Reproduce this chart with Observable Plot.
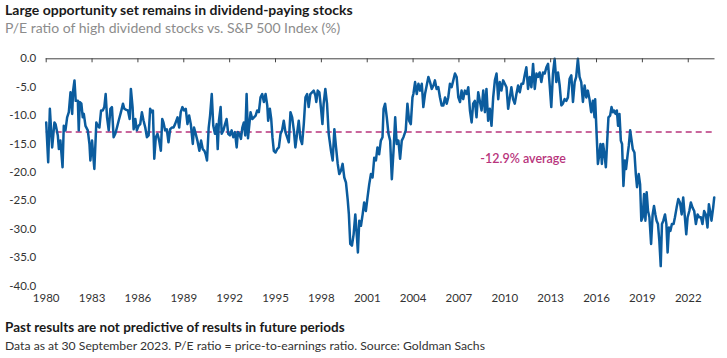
<!DOCTYPE html>
<html><head><meta charset="utf-8">
<script src="https://cdn.jsdelivr.net/npm/d3@7"></script>
<script src="https://cdn.jsdelivr.net/npm/@observablehq/plot@0.6"></script>
<style>
body{margin:0;background:#fff;font-family:Lato,"Open Sans",sans-serif;}
#wrap{width:727px;height:358px;position:relative;overflow:hidden;background:#fff}
.title{position:absolute;left:5px;top:1px;font-size:14px;font-weight:700;color:#1a1a1a;line-height:18px;white-space:nowrap}
.subtitle{position:absolute;left:5px;top:19px;font-size:14px;color:#8c8c8c;line-height:18px;white-space:nowrap}
#chart{position:absolute;left:0;top:36px}
.note{position:absolute;left:5px;top:319px;font-size:13.5px;font-weight:700;color:#1a1a1a;line-height:17px;white-space:nowrap}
.source{position:absolute;left:5px;top:338px;font-size:12.2px;color:#333;line-height:16px;white-space:nowrap}
</style></head>
<body><div id="wrap">
<div class="title">Large opportunity set remains in dividend-paying stocks</div>
<div class="subtitle">P/E ratio of high dividend stocks vs. S&amp;P 500 Index (%)</div>
<div id="chart"></div>
<div class="note">Past results are not predictive of results in future periods</div>
<div class="source">Data as at 30 September 2023. P/E ratio = price-to-earnings ratio. Source: Goldman Sachs</div>
</div>
<script>
const years = [1980.00,1980.13,1980.24,1980.39,1980.54,1980.61,1980.76,1980.83,1980.93,1981.07,1981.15,1981.26,1981.37,1981.48,1981.59,1981.70,1981.76,1981.85,1981.93,1982.07,1982.13,1982.20,1982.30,1982.39,1982.46,1982.57,1982.72,1982.83,1982.89,1983.00,1983.15,1983.28,1983.37,1983.48,1983.59,1983.70,1983.80,1983.89,1983.98,1984.09,1984.20,1984.30,1984.41,1984.52,1984.63,1984.74,1984.89,1985.02,1985.11,1985.24,1985.35,1985.46,1985.54,1985.65,1985.72,1985.83,1985.93,1986.04,1986.15,1986.26,1986.37,1986.48,1986.59,1986.70,1986.80,1986.91,1986.98,1987.07,1987.17,1987.28,1987.39,1987.50,1987.59,1987.67,1987.78,1987.89,1988.00,1988.11,1988.22,1988.33,1988.43,1988.59,1988.70,1988.80,1988.91,1989.02,1989.13,1989.24,1989.35,1989.46,1989.59,1989.67,1989.78,1989.89,1990.02,1990.13,1990.24,1990.35,1990.43,1990.52,1990.63,1990.72,1990.83,1990.93,1991.04,1991.15,1991.22,1991.30,1991.41,1991.48,1991.59,1991.70,1991.80,1991.91,1992.02,1992.13,1992.24,1992.35,1992.46,1992.54,1992.63,1992.74,1992.83,1992.93,1993.02,1993.11,1993.20,
1993.37,1993.48,1993.59,1993.70,1993.80,1993.91,1994.02,1994.13,1994.24,1994.35,1994.46,1994.52,1994.63,1994.72,1994.80,1994.89,1995.00,1995.11,1995.22,1995.33,1995.43,1995.54,1995.65,1995.76,1995.87,1995.98,1996.09,1996.20,1996.30,1996.41,1996.52,1996.63,1996.74,1996.85,1996.96,1997.07,1997.17,1997.28,1997.39,1997.50,1997.61,1997.67,1997.76,1997.87,1997.98,1998.07,1998.15,1998.26,1998.37,1998.48,1998.54,1998.63,1998.74,1998.85,1998.96,1999.07,1999.17,1999.28,1999.39,1999.50,1999.61,1999.72,1999.80,1999.89,2000.00,2000.11,2000.22,2000.33,2000.39,2000.48,2000.59,2000.70,2000.80,2000.91,2001.02,2001.13,2001.24,2001.35,2001.46,2001.57,2001.67,2001.78,2001.89,2002.00,2002.07,2002.17,2002.28,2002.39,2002.50,2002.61,2002.72,2002.83,2002.93,2003.04,2003.15,2003.26,2003.37,2003.52,2003.63,2003.74,2003.85,2003.96,2004.02,2004.13,2004.24,2004.35,2004.46,2004.57,2004.67,2004.78,2004.89,2005.00,2005.11,2005.22,2005.33,2005.43,2005.54,2005.65,2005.76,2005.87,2005.98,2006.09,2006.20,2006.30,2006.41,2006.52,2006.63,2006.74,2006.85,2006.96,2007.07,2007.17,2007.28,2007.39,2007.50,2007.61,2007.72,2007.83,2007.93,2008.04,2008.15,2008.26,
2008.48,2008.59,2008.70,2008.80,2008.91,2009.02,2009.13,2009.24,2009.35,2009.46,2009.57,2009.67,2009.78,2009.89,2010.00,2010.11,2010.22,2010.33,2010.43,2010.54,2010.65,2010.76,2010.87,2010.98,2011.09,2011.20,2011.30,2011.41,2011.52,2011.63,2011.74,2011.85,2011.96,2012.07,2012.17,2012.28,2012.39,2012.50,2012.61,2012.72,2012.83,2012.93,2013.04,2013.15,2013.26,2013.37,2013.48,2013.59,2013.70,2013.80,2013.91,2014.02,2014.13,2014.24,2014.35,2014.46,2014.57,2014.67,2014.78,2014.89,2015.00,2015.11,2015.22,2015.33,2015.43,2015.54,2015.65,2015.76,2015.87,2015.91,2016.02,2016.09,2016.17,2016.26,2016.35,2016.43,2016.52,2016.61,2016.70,2016.78,2016.89,2016.98,2017.07,2017.15,2017.24,2017.33,2017.41,2017.50,2017.59,2017.67,2017.76,2017.85,2017.93,2018.04,2018.11,2018.20,2018.28,2018.37,2018.48,2018.57,2018.65,2018.76,2018.85,2018.93,2019.02,2019.11,2019.20,2019.28,2019.37,2019.46,2019.57,2019.67,2019.76,2019.85,2019.93,2020.02,2020.11,2020.20,2020.28,2020.37,2020.48,2020.57,2020.65,2020.74,2020.83,2020.93,2021.04,2021.13,2021.24,2021.35,2021.46,2021.57,2021.67,2021.78,2021.87,2021.96,2022.07,2022.17,2022.28,2022.39,2022.50,2022.61,2022.72,2022.83,2022.93,2023.04,2023.15,2023.26,2023.35,2023.43,2023.52,2023.63,2023.70];

const peRatio = [-11.2,-18.2,-8.8,-15.6,-11.2,-11.5,-13.5,-15.9,-14.4,-19.1,-11.8,-12.6,-10.3,-9.4,-5.9,-9.7,-5.6,-3.8,-7.4,-7.4,-12.6,-7.6,-7.9,-10.3,-9.7,-11.8,-12.6,-15.0,-17.9,-14.4,-19.4,-11.2,-11.8,-12.1,-9.1,-9.1,-8.5,-6.2,-10.3,-12.6,-8.8,-8.5,-13.8,-13.2,-12.1,-10.9,-9.4,-7.9,-8.8,-9.0,-9.1,-10.6,-5.3,-8.5,-12.4,-10.6,-12.6,-11.8,-11.5,-9.4,-10.9,-12.1,-13.8,-13.5,-8.8,-9.4,-9.1,-17.6,-13.8,-13.2,-14.4,-16.2,-10.6,-11.2,-12.6,-12.4,-14.7,-12.4,-12.1,-12.1,-11.5,-10.3,-12.1,-9.4,-8.5,-9.1,-8.8,-11.5,-10.0,-11.5,-15.0,-12.1,-13.2,-14.4,-16.2,-14.4,-15.9,-16.2,-16.8,-17.9,-12.1,-10.0,-6.2,-11.8,-13.2,-11.5,-15.9,-10.9,-8.5,-13.2,-12.6,-11.5,-10.6,-13.2,-13.5,-12.6,-13.8,-12.9,-15.6,-12.9,-13.2,-14.1,-12.1,-11.2,-13.5,-6.2,-14.0,
-9.4,-10.6,-10.3,-10.0,-9.1,-9.4,-6.8,-6.2,-7.6,-6.2,-8.2,-10.9,-8.8,-10.6,-13.8,-16.2,-16.5,-15.9,-15.6,-13.2,-12.6,-10.9,-12.9,-13.8,-14.7,-9.4,-10.3,-12.6,-15.6,-13.2,-10.9,-14.1,-15.0,-11.5,-6.8,-6.2,-8.5,-6.2,-5.9,-5.6,-6.5,-7.6,-5.6,-5.9,-8.8,-11.5,-7.9,-5.3,-7.9,-13.2,-14.4,-16.2,-17.9,-12.4,-15.6,-18.5,-20.3,-19.7,-18.5,-20.9,-21.8,-24.7,-27.4,-32.6,-32.9,-30.9,-27.4,-31.5,-34.1,-28.5,-29.4,-27.4,-25.3,-26.8,-24.4,-22.1,-20.3,-20.9,-17.4,-17.9,-15.6,-16.8,-14.4,-13.8,-8.8,-7.9,-10.3,-13.2,-14.4,-21.2,-16.2,-10.3,-15.0,-14.4,-17.6,-14.4,-13.8,-12.6,-7.9,-10.9,-11.5,-6.8,-6.2,-4.1,-6.2,-4.4,-5.6,-4.4,-8.5,-6.2,-4.7,-3.2,-4.1,-5.3,-4.7,-3.8,-5.3,-5.0,-6.8,-8.2,-8.2,-6.8,-7.9,-6.8,-4.4,-5.0,-3.8,-2.6,-3.2,-6.8,-7.6,-5.6,-7.1,-5.6,-6.2,-5.0,-9.1,-11.2,-7.9,-7.4,-10.3,-5.9,
-9.1,-5.6,-9.4,-5.3,-10.9,-8.8,-11.8,-6.8,-3.8,-2.6,-7.1,-4.1,-5.6,-3.8,-4.4,-5.0,-8.8,-6.8,-5.0,-7.1,-7.9,-6.2,-4.7,-5.9,-4.4,-4.4,-2.9,-1.5,-5.3,-3.2,-5.0,-0.9,-5.3,-2.6,-3.2,-2.4,-4.1,-2.4,-2.6,-1.5,-0.9,-4.4,-8.5,-2.6,0.0,-4.1,-2.4,-4.7,-8.2,-7.9,-7.1,-7.4,-6.8,-3.5,-2.9,-7.6,-4.1,-3.2,0.0,-3.2,-4.1,-7.6,-4.7,-6.8,-5.6,-7.1,-9.4,-7.4,-10.3,-7.1,-14.1,-18.5,-17.1,-15.0,-18.5,-15.0,-16.8,-19.1,-14.4,-10.3,-10.0,-8.5,-9.4,-9.1,-9.7,-9.1,-11.8,-9.7,-14.4,-15.0,-22.4,-17.9,-19.4,-16.8,-15.3,-12.6,-14.1,-15.9,-16.5,-20.3,-22.6,-20.3,-22.1,-28.5,-27.9,-23.8,-28.5,-23.5,-26.8,-27.9,-32.6,-27.4,-25.9,-27.4,-28.5,-29.1,-32.1,-36.5,-29.1,-28.5,-27.4,-29.1,-34.1,-29.7,-30.3,-29.1,-29.1,-27.9,-26.2,-24.7,-25.3,-27.4,-24.4,-27.9,-30.9,-27.9,-26.8,-25.3,-26.2,-26.8,-29.1,-27.4,-27.9,-27.9,-29.1,-26.8,-27.4,-29.7,-25.6,-26.8,-28.5,-26.2,-24.4];

const average = -12.9;
const averageLabel = "-12.9% average";
const labelYear = 2011.2;
const xTicks = [1980,1983,1986,1989,1992,1995,1998,2001,2004,2007,2010,2013,2016,2019,2022];
const yTicks = [0,-5,-10,-15,-20,-25,-30,-35,-40];

const data = years.map((y, i) => ({year: y, value: peRatio[i]}));
const magenta = "#b8347c";
const blue = "#0b5c9e";

const chart = Plot.plot({
  width: 727,
  height: 280,
  marginLeft: 45.7,
  marginRight: 12.5,
  marginTop: 22.3,
  marginBottom: 30.5,
  style: {fontFamily: "Lato, 'Open Sans', sans-serif", fontSize: "11.5px", color: "#333", background: "#fff"},
  x: {type: "linear", domain: [1980, 2023.75]},
  y: {domain: [-40, 0]},
  marks: [
    Plot.ruleY([average], {stroke: magenta, strokeWidth: 1.4, strokeDasharray: "6,4"}),
    Plot.line(data, {x: "year", y: "value", stroke: blue, strokeWidth: 2.5, strokeLinejoin: "round"}),
    Plot.ruleY([0], {stroke: "#444", strokeWidth: 1}),
    Plot.ruleX(xTicks, {x: d => d, y1: 0, y2: 0, insetBottom: -4, stroke: "#444"}),
    Plot.axisX({anchor: "bottom", ticks: xTicks, tickSize: 0, tickPadding: 8, tickFormat: d => String(d), label: null, fill: "#333"}),
    Plot.axisY({ticks: yTicks, tickSize: 0, tickPadding: 10, tickFormat: d => d.toFixed(1), label: null, fill: "#333"}),
    Plot.text([averageLabel], {x: labelYear, y: average, dy: 27, text: d => d, fill: magenta, fontSize: 12.5, fontWeight: 600})
  ]
});
document.getElementById("chart").appendChild(chart);
</script>
</body></html>
